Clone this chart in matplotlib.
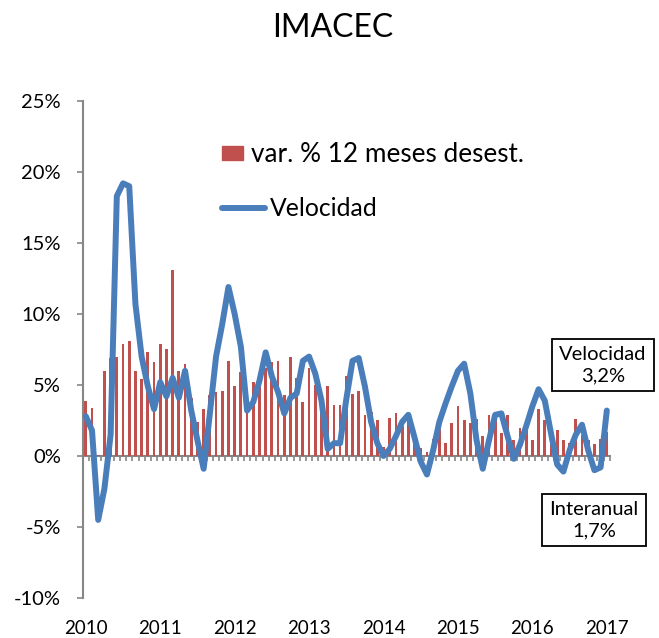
import numpy as np
import matplotlib.pyplot as plt
from matplotlib.ticker import PercentFormatter
from matplotlib.patches import Rectangle
from matplotlib.lines import Line2D

plt.rcParams['font.family'] = ['Lato', 'DejaVu Sans']
plt.rcParams['axes.unicode_minus'] = False

# etiquetas del eje x (un valor por mes, ene-2010 a ene-2017)
years = ['2010', '2011', '2012', '2013', '2014', '2015', '2016', '2017']

# var. % 12 meses desestacionalizada
var_12m = [3.9, 3.4, 0.1, 6.0, 6.9, 7.0, 7.9, 8.1, 6.0, 5.4, 7.3, 6.6,
           7.9, 7.5, 13.1, 6.0, 6.5, 4.1, 2.4, 3.3, 4.3, 4.5, 4.6, 6.7,
           4.9, 5.9, 4.0, 5.2, 5.6, 6.2, 6.6, 6.7, 4.3, 7.0, 5.5, 3.8,
           6.2, 5.0, 4.2, 4.9, 3.6, 3.6, 5.6, 4.4, 4.6, 2.9, 3.1, 2.5,
           0.65, 2.7, 3.0, 2.1, 3.0, 1.6, 0.55, 0.3, 1.2, 1.9, 0.9, 2.35,
           3.5, 2.5, 2.3, 2.6, 1.4, 2.9, 2.7, 1.65, 2.9, 1.1, 1.95, 2.3,
           1.1, 3.3, 2.5, 2.2, 1.8, 1.1, 0.9, 2.6, 1.5, 1.1, 0.85, 1.2,
           1.7]

# velocidad (var. trimestral anualizada)
velocidad = [2.8, 1.8, -4.5, -2.3, 1.5, 18.3, 19.2, 19.0, 10.7, 7.0, 4.9, 3.3,
             5.2, 4.2, 5.5, 4.1, 6.0, 3.2, 1.1, -0.9, 3.0, 7.0, 9.3, 11.9,
             10.0, 7.7, 3.2, 3.8, 5.3, 7.3, 5.6, 4.5, 3.0, 4.1, 4.4, 6.7,
             7.0, 5.8, 3.9, 0.5, 0.9, 0.9, 4.0, 6.7, 6.9, 4.9, 2.4, 0.9,
             0.0, 0.5, 1.4, 2.4, 2.9, 1.3, -0.4, -1.3, 0.4, 2.4, 3.7, 4.9,
             6.0, 6.5, 4.4, 1.1, -0.9, 1.1, 2.9, 3.0, 1.4, -0.2, 0.8, 2.1,
             3.5, 4.7, 3.9, 1.6, -0.6, -1.1, 0.4, 1.5, 2.2, 0.4, -1.0, -0.8,
             3.2]

red = '#C0504D'
blue = '#4A7EBB'
gray = '#868686'

x = np.arange(len(var_12m))

fig = plt.figure(figsize=(6.59, 6.38), dpi=100)
ax = fig.add_axes([0.1255, 0.0627, 0.800, 0.779])

ax.bar(x, var_12m, width=0.45, color=red, zorder=2)
ax.plot(x, velocidad, color=blue, lw=4.3, solid_joinstyle='round',
        solid_capstyle='round', zorder=3)

ax.set_xlim(-0.5, len(x) - 0.5)
ax.set_ylim(-10, 25)
ax.set_yticks(range(-10, 26, 5))
ax.yaxis.set_major_formatter(PercentFormatter(decimals=0))
ax.set_xticks(range(0, len(x), 12), years)

for s in ['top', 'right', 'bottom']:
    ax.spines[s].set_visible(False)
ax.spines['left'].set_color(gray)
ax.spines['left'].set_linewidth(1.5)
ax.tick_params(axis='y', direction='out', length=4.3, width=1.2, color=gray,
               labelsize=14.5, pad=11.5)
ax.tick_params(axis='x', length=0, labelsize=13.5, pad=16)

# eje de categorias en el 0
sec = ax.secondary_xaxis(10 / 35)
sec.spines['bottom'].set_color(gray)
sec.spines['bottom'].set_linewidth(1.5)
sec.set_xticks(np.arange(-0.5, len(x), 1))
sec.tick_params(axis='x', direction='out', length=3.6, width=1.2, color=gray,
                labelbottom=False)

# leyendas
h1 = Rectangle((0, 0), 1, 1, color=red)
leg1 = ax.legend([h1], ['var. % 12 meses desest.'], loc='center left',
                 bbox_to_anchor=(222 / 659, 1 - 155 / 638),
                 bbox_transform=fig.transFigure, frameon=False,
                 borderpad=0, borderaxespad=0, handlelength=0.82,
                 handleheight=0.47, handletextpad=0.28, fontsize=18.8)
ax.add_artist(leg1)
h2 = Line2D([0], [0], color=blue, lw=4.3, solid_capstyle='round')
ax.legend([h2], ['Velocidad'], loc='center left',
          bbox_to_anchor=(222 / 659, 1 - 209 / 638),
          bbox_transform=fig.transFigure, frameon=False,
          borderpad=0, borderaxespad=0, handlelength=1.72,
          handletextpad=0.2, fontsize=17.8)

fig.text(332.5 / 659, 1 - 36.7 / 638, 'IMACEC', ha='center', va='baseline',
         fontsize=23)

box = dict(boxstyle='square,pad=0.35', fc='white', ec='black', lw=1.3)
fig.text(603 / 659, 1 - 365 / 638, 'Velocidad\n3,2%', ha='center', va='center',
         fontsize=14.5, linespacing=1.3, bbox=box)
fig.text(594 / 659, 1 - 520 / 638, 'Interanual\n1,7%', ha='center', va='center',
         fontsize=14.5, linespacing=1.35, bbox=box)

fig.savefig('out.png', dpi=100)
